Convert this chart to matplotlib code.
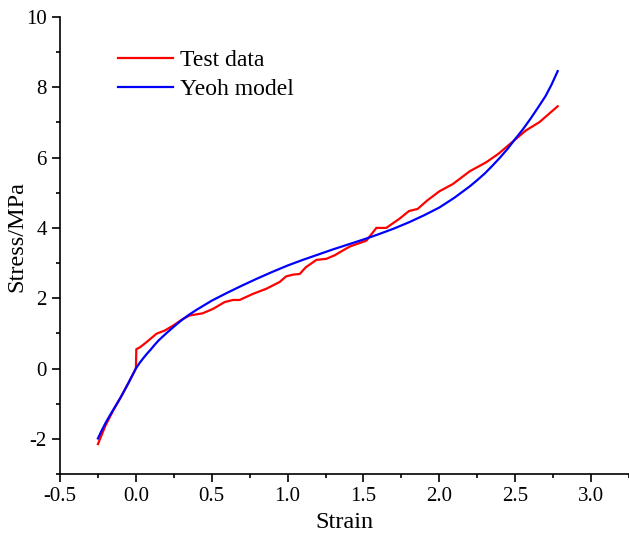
import matplotlib.pyplot as plt
from matplotlib.ticker import MultipleLocator

plt.rcParams['font.family'] = ['Liberation Serif', 'DejaVu Serif']
plt.rcParams['axes.unicode_minus'] = False

# measured stress-strain curve
test_strain = [-0.25, -0.2, -0.15, -0.1, -0.05, 0.0, 0.003, 0.026, 0.07, 0.136, 0.19, 0.245,
               0.31, 0.355, 0.44, 0.51, 0.585, 0.64, 0.684, 0.77, 0.86, 0.947, 0.99, 1.035,
               1.08, 1.12, 1.19, 1.255, 1.31, 1.365, 1.41, 1.52, 1.585, 1.65, 1.737, 1.80,
               1.857, 1.92, 2.0, 2.09, 2.20, 2.31, 2.39, 2.48, 2.57, 2.66, 2.78]
test_stress = [-2.15, -1.62, -1.2, -0.82, -0.42, 0.0, 0.55, 0.6, 0.75, 0.99, 1.08, 1.22,
               1.41, 1.51, 1.57, 1.70, 1.89, 1.95, 1.95, 2.12, 2.27, 2.46, 2.62, 2.67,
               2.69, 2.88, 3.09, 3.12, 3.22, 3.36, 3.47, 3.64, 4.0, 4.0, 4.26, 4.48,
               4.54, 4.78, 5.04, 5.25, 5.61, 5.87, 6.11, 6.44, 6.77, 7.01, 7.46]

# fitted Yeoh hyperelastic model
yeoh_strain = [-0.25, -0.225, -0.2, -0.175, -0.15, -0.125, -0.1, -0.075, -0.05, -0.025,
               0.0, 0.025, 0.05, 0.075, 0.1, 0.125, 0.15, 0.175, 0.2, 0.25, 0.3, 0.35,
               0.4, 0.45, 0.5, 0.6, 0.7, 0.8, 0.9, 1.0, 1.1, 1.2, 1.3, 1.4, 1.5, 1.6,
               1.7, 1.8, 1.9, 2.0, 2.05, 2.1, 2.15, 2.2, 2.25, 2.3, 2.35, 2.4, 2.45,
               2.5, 2.55, 2.6, 2.65, 2.7, 2.74, 2.78]
yeoh_stress = [-1.99, -1.76, -1.55, -1.36, -1.18, -1.0, -0.82, -0.62, -0.42, -0.21,
               0.0, 0.16, 0.3, 0.43, 0.55, 0.68, 0.8, 0.9, 1.0, 1.19, 1.37, 1.53,
               1.67, 1.8, 1.93, 2.15, 2.36, 2.56, 2.75, 2.93, 3.09, 3.24, 3.39, 3.53,
               3.67, 3.82, 3.98, 4.16, 4.36, 4.58, 4.72, 4.86, 5.02, 5.18, 5.36, 5.55,
               5.77, 6.0, 6.25, 6.53, 6.8, 7.1, 7.42, 7.75, 8.08, 8.46]

fig = plt.figure(figsize=(6.29, 5.34), dpi=100)
ax = fig.add_axes([0.0954, 0.1124, 0.9046, 0.8558])

ax.plot(test_strain, test_stress, color='#ff0000', lw=1.6, label='Test data')
ax.plot(yeoh_strain, yeoh_stress, color='#0000ff', lw=1.6, label='Yeoh model')

ax.set_xlim(-0.5, 3.25)
ax.set_ylim(-3, 10)
ax.xaxis.set_major_locator(MultipleLocator(0.5))
ax.xaxis.set_minor_locator(MultipleLocator(0.25))
ax.yaxis.set_major_locator(MultipleLocator(2))
ax.yaxis.set_minor_locator(MultipleLocator(1))
ax.xaxis.set_major_formatter(lambda v, p: f'{v:.1f}')

for s in ['top', 'right']:
    ax.spines[s].set_visible(False)
for s in ['left', 'bottom']:
    ax.spines[s].set_linewidth(1.2)

ax.tick_params(which='major', direction='out', length=6, width=1.2, labelsize=15)
ax.tick_params(which='minor', direction='out', length=3, width=1.2)

ax.set_xlabel('Strain', fontsize=17.5, labelpad=4)
ax.set_ylabel('Stress/MPa', fontsize=17.5)
ax.yaxis.set_label_coords(-0.058, 0.52)

ax.legend(loc='upper left', bbox_to_anchor=(0.065, 0.975), frameon=False, fontsize=17,
          handlelength=2.3, handletextpad=0.3, labelspacing=0.32)

fig.savefig('out.png', dpi=100)
